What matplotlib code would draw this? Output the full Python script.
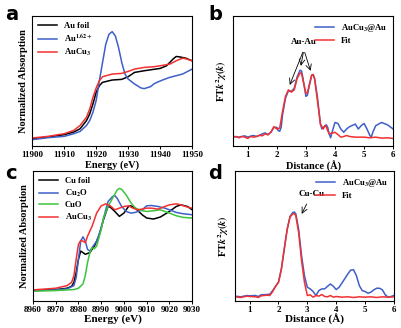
import matplotlib
matplotlib.use('Agg')
import matplotlib.pyplot as plt

plt.rcParams['font.family'] = ['Liberation Serif', 'DejaVu Serif']
plt.rcParams['font.weight'] = 'bold'
plt.rcParams['mathtext.fontset'] = 'stix'

# (a) Au L3-edge XANES
a_x_foil = [11900, 11905, 11910, 11913, 11915, 11917, 11918, 11919, 11920, 11921, 11922, 11925, 11928,
            11930, 11932, 11935, 11940, 11942, 11944, 11945, 11946, 11948, 11950]
a_foil = [0.22, 0.27, 0.34, 0.42, 0.52, 0.77, 0.97, 1.27, 1.62, 1.82, 1.92, 1.99, 2.01,
          2.09, 2.22, 2.27, 2.34, 2.42, 2.62, 2.70, 2.69, 2.65, 2.57]
a_x_cu3 = [11900, 11905, 11910, 11913, 11915, 11917, 11918, 11919, 11920, 11921, 11922, 11925, 11928,
           11930, 11932, 11935, 11938, 11940, 11943, 11945, 11947, 11948, 11950]
a_cu3 = [0.24, 0.29, 0.37, 0.47, 0.62, 0.87, 1.12, 1.47, 1.75, 1.97, 2.09, 2.17, 2.19,
         2.25, 2.32, 2.37, 2.39, 2.42, 2.47, 2.57, 2.65, 2.63, 2.57]
a_x_ion = [11900, 11905, 11910, 11913, 11915, 11917, 11918, 11919, 11920, 11921, 11922, 11923, 11924,
           11925, 11926, 11927, 11928, 11929, 11930, 11932, 11934, 11935, 11937, 11938, 11939,
           11941, 11943, 11945, 11947, 11948, 11950]
a_ion = [0.19, 0.25, 0.29, 0.37, 0.44, 0.62, 0.77, 1.02, 1.37, 1.97, 2.52, 3.07, 3.37,
         3.45, 3.32, 2.97, 2.52, 2.17, 2.02, 1.87, 1.75, 1.73, 1.79, 1.87, 1.92,
         2.00, 2.07, 2.12, 2.17, 2.22, 2.32]

# (b) Au EXAFS
b_x_exp = [0.5, 0.7, 0.9, 1.0, 1.1, 1.2, 1.3, 1.4, 1.5, 1.6, 1.7, 1.8, 1.9, 2.0, 2.05, 2.1, 2.15,
           2.2, 2.3, 2.4, 2.5, 2.6, 2.7, 2.8, 2.85, 2.9, 3.0, 3.05, 3.1, 3.2, 3.25, 3.3, 3.4,
           3.5, 3.55, 3.6, 3.7, 3.75, 3.8, 3.85, 3.9, 4.0, 4.1, 4.2, 4.3, 4.4, 4.5, 4.7, 4.8,
           4.9, 5.0, 5.1, 5.2, 5.25, 5.3, 5.4, 5.6, 5.8, 6.0]
b_exp = [0.29, 0.27, 0.31, 0.27, 0.30, 0.32, 0.29, 0.32, 0.37, 0.40, 0.35, 0.42, 0.57, 0.57, 0.47, 0.45, 0.57,
         0.97, 1.47, 1.69, 1.67, 1.77, 2.12, 2.32, 2.30, 2.07, 1.52, 1.55, 1.77, 2.17, 2.19, 2.07, 1.47,
         0.67, 0.52, 0.57, 0.65, 0.57, 0.37, 0.25, 0.42, 0.72, 0.69, 0.52, 0.42, 0.52, 0.59, 0.67, 0.52,
         0.62, 0.69, 0.52, 0.32, 0.27, 0.42, 0.62, 0.72, 0.65, 0.52]
b_x_fit = [0.5, 0.6, 0.7, 0.8, 0.9, 1.0, 1.1, 1.2, 1.3, 1.4, 1.5, 1.6, 1.7, 1.8, 1.9, 2.0, 2.1,
           2.2, 2.3, 2.4, 2.5, 2.6, 2.7, 2.8, 2.85, 2.9, 3.0, 3.05, 3.1, 3.2, 3.25, 3.3, 3.4,
           3.5, 3.6, 3.65, 3.7, 3.75, 3.8, 3.9, 4.0, 4.1, 4.2, 4.3, 4.4, 4.5, 4.7, 4.8,
           5.0, 5.2, 5.4, 5.6, 5.8, 6.0]
b_fit = [0.27, 0.29, 0.25, 0.29, 0.27, 0.23, 0.29, 0.27, 0.29, 0.33, 0.31, 0.37, 0.34, 0.43, 0.59, 0.52, 0.55,
         1.07, 1.52, 1.72, 1.65, 1.72, 2.07, 2.24, 2.22, 2.02, 1.62, 1.62, 1.82, 2.17, 2.19, 2.05, 1.37,
         0.67, 0.52, 0.62, 0.59, 0.47, 0.37, 0.39, 0.42, 0.35, 0.27, 0.29, 0.32, 0.29, 0.27, 0.27,
         0.27, 0.25, 0.27, 0.24, 0.25, 0.23]

# (c) Cu K-edge XANES
c_x_foil = [8960, 8970, 8975, 8977, 8978, 8979, 8980, 8981, 8983, 8985, 8987, 8989, 8991, 8993, 8994,
            8996, 8998, 9000, 9002, 9003, 9005, 9008, 9010, 9013, 9016, 9020, 9023, 9025, 9028, 9030]
c_foil = [0.22, 0.25, 0.29, 0.35, 0.47, 0.77, 1.17, 1.42, 1.32, 1.37, 1.57, 1.87, 2.37, 2.77, 2.75,
          2.62, 2.47, 2.57, 2.77, 2.79, 2.72, 2.52, 2.42, 2.39, 2.45, 2.62, 2.77, 2.82, 2.77, 2.67]
c_x_cu2o = [8960, 8970, 8975, 8978, 8979, 8980, 8981, 8982, 8983, 8984, 8985, 8986, 8988, 8990, 8992,
            8993, 8995, 8996, 8997, 8999, 9001, 9003, 9005, 9008, 9010, 9012, 9015, 9018, 9020, 9023,
            9026, 9030]
c_cu2o = [0.22, 0.24, 0.27, 0.37, 0.62, 1.17, 1.72, 1.85, 1.72, 1.47, 1.42, 1.52, 1.72, 2.12, 2.67,
          2.92, 3.07, 3.10, 3.02, 2.77, 2.62, 2.57, 2.59, 2.67, 2.79, 2.80, 2.77, 2.72, 2.67, 2.59,
          2.55, 2.52]
c_x_cuo = [8960, 8970, 8978, 8980, 8982, 8983, 8984, 8985, 8986, 8987, 8988, 8990, 8991, 8993, 8995,
           8997, 8998, 8999, 9001, 9003, 9005, 9008, 9010, 9013, 9016, 9018, 9020, 9023, 9026, 9030]
c_cuo = [0.20, 0.22, 0.25, 0.29, 0.42, 0.67, 1.07, 1.37, 1.52, 1.49, 1.57, 2.07, 2.42, 2.77, 3.02,
         3.27, 3.32, 3.29, 3.12, 2.89, 2.72, 2.64, 2.62, 2.64, 2.67, 2.62, 2.57, 2.49, 2.44, 2.42]
c_x_cu3 = [8960, 8970, 8975, 8977, 8978, 8979, 8980, 8981, 8982, 8983, 8984, 8986, 8988, 8990, 8992,
           8994, 8996, 8998, 9000, 9002, 9004, 9006, 9008, 9010, 9012, 9015, 9018, 9020, 9023, 9025,
           9028, 9030]
c_cu3 = [0.24, 0.29, 0.37, 0.47, 0.67, 1.17, 1.62, 1.74, 1.72, 1.67, 1.87, 2.17, 2.57, 2.79, 2.85,
         2.79, 2.67, 2.72, 2.77, 2.79, 2.72, 2.67, 2.69, 2.72, 2.72, 2.69, 2.77, 2.82, 2.85, 2.82,
         2.75, 2.72]

# (d) Cu EXAFS
d_x_exp = [0.5, 0.7, 0.9, 1.0, 1.2, 1.3, 1.4, 1.6, 1.7, 1.8, 1.9, 2.0, 2.1, 2.2, 2.3, 2.4, 2.5, 2.55,
           2.6, 2.7, 2.8, 2.9, 3.0, 3.1, 3.2, 3.3, 3.4, 3.5, 3.6, 3.7, 3.8, 3.9, 4.0, 4.1, 4.2, 4.4,
           4.5, 4.6, 4.7, 4.8, 4.9, 5.0, 5.1, 5.2, 5.3, 5.4, 5.5, 5.6, 5.7, 5.8, 5.9, 6.0]
d_exp = [0.15, 0.13, 0.17, 0.16, 0.17, 0.14, 0.19, 0.20, 0.21, 0.32, 0.45, 0.57, 0.97, 1.57, 2.17, 2.57, 2.69, 2.70,
         2.65, 2.17, 1.37, 0.77, 0.42, 0.37, 0.29, 0.17, 0.32, 0.37, 0.37, 0.45, 0.52, 0.45, 0.35, 0.42, 0.55, 0.82,
         0.94, 0.95, 0.77, 0.47, 0.32, 0.29, 0.24, 0.27, 0.34, 0.39, 0.39, 0.34, 0.19, 0.12, 0.14, 0.17]
d_x_fit = [0.5, 0.7, 0.9, 1.0, 1.2, 1.3, 1.4, 1.6, 1.7, 1.8, 1.9, 2.0, 2.1, 2.2, 2.3, 2.4, 2.5, 2.55,
           2.6, 2.7, 2.8, 2.9, 3.0, 3.1, 3.2, 3.3, 3.4, 3.5, 3.6, 3.7, 3.8, 3.9, 4.0, 4.2, 4.4, 4.6,
           4.8, 5.0, 5.2, 5.4, 5.6, 5.8, 6.0]
d_fit = [0.13, 0.11, 0.15, 0.14, 0.13, 0.11, 0.16, 0.18, 0.17, 0.29, 0.45, 0.57, 0.97, 1.59, 2.17, 2.55, 2.65, 2.65,
         2.59, 2.07, 1.22, 0.57, 0.17, 0.19, 0.12, 0.17, 0.15, 0.20, 0.14, 0.13, 0.17, 0.12, 0.14, 0.12, 0.13, 0.11,
         0.13, 0.12, 0.13, 0.11, 0.13, 0.12, 0.13]

BLACK = 'black'
BLUE = '#3f5fc8'
RED = '#f23030'
GREEN = '#3cc43c'

fig = plt.figure(figsize=(4.02, 3.28), dpi=100)
ax_a = fig.add_axes([0.080, 0.555, 0.398, 0.396])
ax_b = fig.add_axes([0.580, 0.555, 0.398, 0.396])
ax_c = fig.add_axes([0.082, 0.082, 0.396, 0.397])
ax_d = fig.add_axes([0.585, 0.082, 0.395, 0.397])

lw = 1.1
tick_fs = 6.5
lab_fs = 7.5
leg_fs = 6.2

def style(ax):
    for s in ax.spines.values():
        s.set_linewidth(0.8)
    ax.tick_params(labelsize=tick_fs, length=2.5, width=0.7, direction='out', pad=1.2)
    for t in ax.get_xticklabels():
        t.set_fontweight('bold')

# panel a
ax_a.plot(a_x_foil, a_foil, color=BLACK, lw=lw, label='Au foil')
ax_a.plot(a_x_ion, a_ion, color=BLUE, lw=lw, label='Au$^{1.62+}$')
ax_a.plot(a_x_cu3, a_cu3, color=RED, lw=lw, label='AuCu$_3$')
ax_a.set_xlim(11900, 11950)
ax_a.set_ylim(0, 3.92)
ax_a.set_xticks([11900, 11910, 11920, 11930, 11940, 11950])
ax_a.set_yticks([])
ax_a.set_xlabel('Energy (eV)', fontsize=lab_fs, fontweight='bold', labelpad=1)
ax_a.set_ylabel('Normalized Absorption', fontsize=lab_fs, fontweight='bold', labelpad=3)
ax_a.legend(loc='upper left', frameon=False, handlelength=2.2,
            labelspacing=0.3, borderaxespad=0.3, prop={'weight': 'bold', 'size': leg_fs})
style(ax_a)

# panel b
ax_b.plot(b_x_exp, b_exp, color=BLUE, lw=lw, label='AuCu$_3$@Au')
ax_b.plot(b_x_fit, b_fit, color=RED, lw=lw, label='Fit')
ax_b.set_xlim(0.5, 6)
ax_b.set_ylim(0, 3.98)
ax_b.set_xticks([1, 2, 3, 4, 5, 6])
ax_b.set_yticks([])
ax_b.set_xlabel('Distance (Å)', fontsize=lab_fs, fontweight='bold', labelpad=1)
ax_b.set_ylabel('FT$k^2\\chi(k)$', fontsize=lab_fs, fontweight='bold', labelpad=3)
ax_b.legend(loc='upper right', frameon=False, handlelength=2.2,
            labelspacing=0.3, borderaxespad=0.3, prop={'weight': 'bold', 'size': leg_fs})
for tx, ty in [(2.41, 1.79), (2.81, 2.37), (3.19, 2.22)]:
    ax_b.annotate('', xy=(tx, ty), xytext=(2.93, 2.95),
                  arrowprops=dict(arrowstyle='->', lw=0.6, color='black'))
ax_b.text(2.93, 3.05, 'Au-Au', fontsize=6.5, fontweight='bold', ha='center', va='bottom')
style(ax_b)

# panel c
ax_c.plot(c_x_foil, c_foil, color=BLACK, lw=lw, label='Cu foil')
ax_c.plot(c_x_cu2o, c_cu2o, color=BLUE, lw=lw, label='Cu$_2$O')
ax_c.plot(c_x_cuo, c_cuo, color=GREEN, lw=lw, label='CuO')
ax_c.plot(c_x_cu3, c_cu3, color=RED, lw=lw, label='AuCu$_3$')
ax_c.set_xlim(8960, 9030)
ax_c.set_ylim(-0.1, 3.85)
ax_c.set_xticks(range(8960, 9031, 10))
ax_c.set_yticks([])
ax_c.set_xlabel('Energy (eV)', fontsize=lab_fs + 0.5, fontweight='bold', labelpad=0)
ax_c.set_ylabel('Normalized Absorption', fontsize=lab_fs, fontweight='bold', labelpad=3)
ax_c.legend(loc='upper left', frameon=False, handlelength=2.2,
            labelspacing=0.3, borderaxespad=0.3, prop={'weight': 'bold', 'size': leg_fs})
style(ax_c)

# panel d
ax_d.plot(d_x_exp, d_exp, color=BLUE, lw=lw, label='AuCu$_3$@Au')
ax_d.plot(d_x_fit, d_fit, color=RED, lw=lw, label='Fit')
ax_d.set_xlim(0.5, 6)
ax_d.set_ylim(0, 3.95)
ax_d.set_xticks([1, 2, 3, 4, 5, 6])
ax_d.set_yticks([])
ax_d.set_xlabel('Distance (Å)', fontsize=lab_fs + 0.5, fontweight='bold', labelpad=0)
ax_d.set_ylabel('FT$k^2\\chi(k)$', fontsize=lab_fs, fontweight='bold', labelpad=3)
ax_d.legend(loc='upper right', frameon=False, handlelength=2.2,
            labelspacing=0.3, borderaxespad=0.3, prop={'weight': 'bold', 'size': leg_fs})
ax_d.annotate('', xy=(2.76, 2.57), xytext=(3.02, 3.02),
              arrowprops=dict(arrowstyle='->', lw=0.6, color='black'))
ax_d.text(3.14, 3.12, 'Cu-Cu', fontsize=6.5, fontweight='bold', ha='center', va='bottom')
style(ax_d)

# panel letters
for x, y, s in [(0.012, 0.955, 'a'), (0.518, 0.955, 'b'), (0.012, 0.47, 'c'), (0.518, 0.47, 'd')]:
    fig.text(x, y, s, fontsize=14, fontweight='bold', family='DejaVu Sans', va='center')

fig.savefig('out.png', dpi=100)
